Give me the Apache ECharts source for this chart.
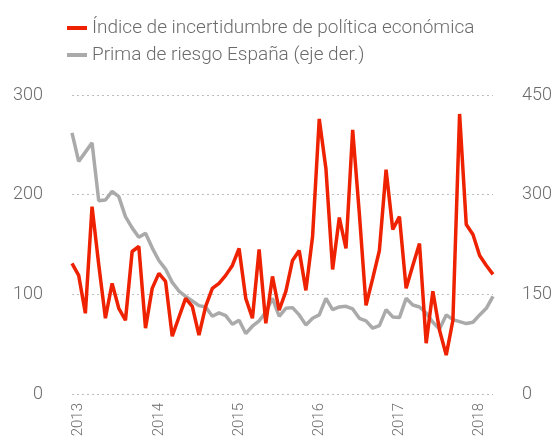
<!DOCTYPE html>
<html>
  <head>
    <meta charset="utf-8" />
    <script src="https://cdn.jsdelivr.net/npm/echarts@6.0.0/dist/echarts.min.js"></script>
    <style>
      html, body { margin: 0; padding: 0; background: #fff; }
      #main { width: 557px; height: 440px; }
    </style>
  </head>

  <body>
    <div id="main"></div>
    <script type="text/javascript">
      // months, Dec 2012 .. Mar 2018
      var months = [
        '2012-12',
        '2013-01','2013-02','2013-03','2013-04','2013-05','2013-06','2013-07','2013-08','2013-09','2013-10','2013-11','2013-12',
        '2014-01','2014-02','2014-03','2014-04','2014-05','2014-06','2014-07','2014-08','2014-09','2014-10','2014-11','2014-12',
        '2015-01','2015-02','2015-03','2015-04','2015-05','2015-06','2015-07','2015-08','2015-09','2015-10','2015-11','2015-12',
        '2016-01','2016-02','2016-03','2016-04','2016-05','2016-06','2016-07','2016-08','2016-09','2016-10','2016-11','2016-12',
        '2017-01','2017-02','2017-03','2017-04','2017-05','2017-06','2017-07','2017-08','2017-09','2017-10','2017-11','2017-12',
        '2018-01','2018-02','2018-03'
      ];

      var seriesNames = ['Índice de incertidumbre de política económica', 'Prima de riesgo España (eje der.)'];

      // policy uncertainty index (left axis)
      var incertidumbre = [
        131, 119, 81, 188, 130, 76, 111, 86, 74, 143, 148, 66,
        106, 121, 113, 58, 77, 96, 88, 59, 88, 106, 111, 119,
        129, 146, 96, 76, 145, 71, 118, 84, 103, 134, 144, 104,
        158, 276, 226, 125, 177, 146, 265, 181, 89, 116, 144, 225,
        165, 178, 106, 129, 151, 51, 103, 64, 39, 74, 281, 170,
        160, 139, 129, 120
      ];

      // risk premium Spain (right axis)
      var primaRiesgo = [
        393, 350, 364, 378, 291, 292, 305, 297, 267, 250, 236, 242,
        220, 201, 188, 168, 155, 147, 140, 133, 131, 117, 122, 118,
        105, 111, 91, 102, 110, 123, 144, 117, 129, 130, 119, 104,
        114, 119, 144, 127, 131, 132, 128, 114, 110, 99, 103, 127,
        116, 115, 144, 134, 131, 122, 108, 98, 119, 112, 109, 106,
        108, 119, 129, 147
      ];

      var leftTicks = [0, 300, 100];
      var rightTicks = [0, 450, 150];

      var textColor = '#6b6b6b';
      var font = 'Roboto, "Noto Sans", sans-serif';

      var myChart = echarts.init(document.getElementById('main'));

      var option = {
        animation: false,
        textStyle: { fontFamily: font },
        legend: {
          orient: 'vertical',
          left: 62,
          top: 13,
          icon: 'rect',
          itemWidth: 20,
          itemHeight: 4,
          itemGap: 7,
          data: seriesNames,
          textStyle: { color: textColor, fontSize: 19, fontWeight: 300, lineHeight: 20, fontFamily: font }
        },
        grid: { left: 72, right: 64, top: 95, bottom: 46, containLabel: false },
        xAxis: {
          type: 'category',
          data: months,
          boundaryGap: false,
          axisLine: { show: false },
          axisTick: { show: false },
          splitLine: { show: false },
          axisLabel: {
            rotate: 90,
            margin: 9,
            color: textColor,
            fontSize: 15,
            fontWeight: 300,
            fontFamily: font,
            interval: function (index, value) { return value.slice(5) === '01'; },
            formatter: function (value) { return value.slice(0, 4); }
          }
        },
        yAxis: [
          {
            type: 'value',
            min: leftTicks[0],
            max: leftTicks[1],
            interval: leftTicks[2],
            axisLine: { show: false },
            axisTick: { show: false },
            axisLabel: { color: textColor, fontSize: 18, fontWeight: 300, margin: 29, fontFamily: font },
            splitLine: { lineStyle: { color: '#bdbdbd', width: 1, type: [2, 3] } }
          },
          {
            type: 'value',
            min: rightTicks[0],
            max: rightTicks[1],
            interval: rightTicks[2],
            axisLine: { show: false },
            axisTick: { show: false },
            axisLabel: { color: textColor, fontSize: 18, fontWeight: 300, margin: 29, fontFamily: font },
            splitLine: { show: false }
          }
        ],
        series: [
          {
            name: seriesNames[1],
            type: 'line',
            yAxisIndex: 1,
            data: primaRiesgo,
            symbol: 'none',
            color: '#aaaaaa',
            lineStyle: { width: 3.5, color: '#aaaaaa' }
          },
          {
            name: seriesNames[0],
            type: 'line',
            yAxisIndex: 0,
            data: incertidumbre,
            symbol: 'none',
            color: '#ee2200',
            lineStyle: { width: 3.5, color: '#ee2200' }
          }
        ]
      };

      myChart.setOption(option);
    </script>
  </body>

</html>
